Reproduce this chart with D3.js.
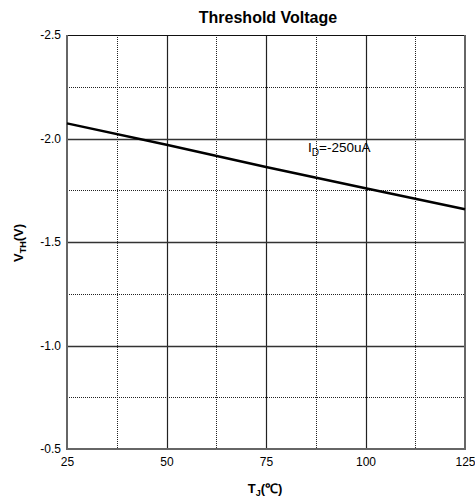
<!DOCTYPE html>
<html>
<head>
<meta charset="utf-8">
<script src="https://cdn.jsdelivr.net/npm/d3@7"></script>
<style>
  body { margin: 0; background: #fff; }
  text { font-family: "Liberation Sans", Arial, sans-serif; }
</style>
</head>
<body>
<svg id="chart" width="475" height="500"></svg>
<script>
// ---- data ----
const temps = [25, 50, 75, 100, 125];
const vth = [-2.073, -1.97, -1.862, -1.76, -1.658];
const xTicks = [25, 50, 75, 100, 125];
const xMinor = [37.5, 62.5, 87.5, 112.5];
const yTicks = [-2.5, -2.0, -1.5, -1.0, -0.5];
const yTickLabels = ["-2.5", "-2.0", "-1.5", "-1.0", "-0.5"];
const yMinor = [-2.25, -1.75, -1.25, -0.75];
const title = "Threshold Voltage";
const seriesLabel = { main: "I", sub: "D", rest: "=-250uA" };

(function () {
const svg = d3.select("#chart");
const pL = 67, pR = 465, pT = 35, pB = 449;
const x = d3.scaleLinear().domain([25, 125]).range([pL, pR]);
const y = d3.scaleLinear().domain([-2.5, -0.5]).range([pT, pB]);

// minor dotted grid
svg.append("g").selectAll("line").data(xMinor).join("line")
  .attr("x1", d => Math.round(x(d)) + 0.5).attr("x2", d => Math.round(x(d)) + 0.5)
  .attr("y1", pT).attr("y2", pB)
  .attr("stroke", "#222").attr("stroke-width", 1).attr("stroke-dasharray", "1,1");
svg.append("g").selectAll("line").data(yMinor).join("line")
  .attr("y1", d => Math.round(y(d)) + 0.5).attr("y2", d => Math.round(y(d)) + 0.5)
  .attr("x1", pL).attr("x2", pR)
  .attr("stroke", "#222").attr("stroke-width", 1).attr("stroke-dasharray", "1,1");

// major solid grid
svg.append("g").selectAll("line").data(xTicks.slice(1, -1)).join("line")
  .attr("x1", d => Math.round(x(d)) + 0.5).attr("x2", d => Math.round(x(d)) + 0.5)
  .attr("y1", pT).attr("y2", pB)
  .attr("stroke", "#222").attr("stroke-width", 1.2);
svg.append("g").selectAll("line").data(yTicks.slice(1, -1)).join("line")
  .attr("y1", d => Math.round(y(d)) + 0.5).attr("y2", d => Math.round(y(d)) + 0.5)
  .attr("x1", pL).attr("x2", pR)
  .attr("stroke", "#333").attr("stroke-width", 1.4);

// frame
svg.append("line").attr("x1", pL).attr("x2", pR).attr("y1", pT + 0.5).attr("y2", pT + 0.5)
  .attr("stroke", "#111").attr("stroke-width", 1.2);
svg.append("line").attr("x1", pR).attr("x2", pR).attr("y1", pT).attr("y2", pB)
  .attr("stroke", "#666").attr("stroke-width", 2);
svg.append("line").attr("x1", pL).attr("x2", pL).attr("y1", pT).attr("y2", pB + 1)
  .attr("stroke", "#666").attr("stroke-width", 2);
svg.append("line").attr("x1", pL).attr("x2", pR + 1).attr("y1", pB).attr("y2", pB)
  .attr("stroke", "#666").attr("stroke-width", 2);

// axes (labels only)
const yAxis = d3.axisLeft(y).tickValues(yTicks).tickSize(0).tickPadding(6)
  .tickFormat((d, i) => yTickLabels[i]);
const gy = svg.append("g").attr("transform", `translate(${pL},0)`).call(yAxis);
gy.select(".domain").remove();
gy.selectAll("text").attr("font-size", 12).attr("font-family", "Liberation Sans, Arial, sans-serif").attr("fill", "#000");

const xAxis = d3.axisBottom(x).tickValues(xTicks).tickSize(0).tickPadding(8)
  .tickFormat(d3.format("d"));
const gx = svg.append("g").attr("transform", `translate(0,${pB})`).call(xAxis);
gx.select(".domain").remove();
gx.selectAll("text").attr("font-size", 12).attr("font-family", "Liberation Sans, Arial, sans-serif").attr("fill", "#000");

// data line
const line = d3.line().x((d, i) => x(temps[i])).y(d => y(d));
svg.append("path").datum(vth).attr("d", line)
  .attr("fill", "none").attr("stroke", "#000").attr("stroke-width", 2.5);

// series label
const lbl = svg.append("text").attr("x", 308).attr("y", 152).attr("font-size", 13.5).attr("fill", "#000");
lbl.append("tspan").text(seriesLabel.main);
lbl.append("tspan").attr("font-size", 10).attr("dy", 4).text(seriesLabel.sub);
lbl.append("tspan").attr("dy", -4).text(seriesLabel.rest);

// title
svg.append("text").attr("x", 268).attr("y", 23).attr("text-anchor", "middle")
  .attr("font-size", 16).attr("font-weight", "bold").text(title);

// x axis title T_J(°C)
const xt = svg.append("text").attr("x", 265).attr("y", 493).attr("text-anchor", "middle")
  .attr("font-size", 13).attr("font-weight", "bold");
xt.append("tspan").text("T");
xt.append("tspan").attr("font-size", 9).attr("dy", 3).text("J");
xt.append("tspan").attr("dy", -3).text("(℃)");

// y axis title V_TH(V)
const yt = svg.append("text").attr("transform", "translate(23,243) rotate(-90)")
  .attr("text-anchor", "middle").attr("font-size", 13).attr("font-weight", "bold");
yt.append("tspan").text("V");
yt.append("tspan").attr("font-size", 9).attr("dy", 3).text("TH");
yt.append("tspan").attr("dy", -3).text("(V)");
})();
</script>
</body>
</html>
